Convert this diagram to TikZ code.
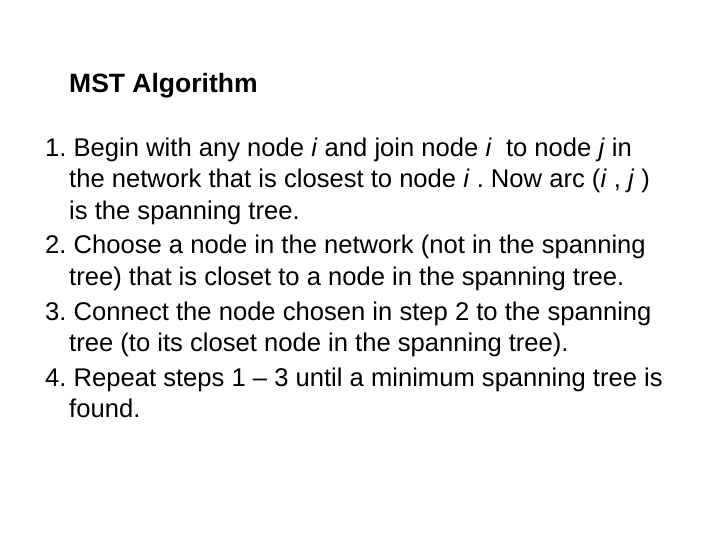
\documentclass[tikz,border=0pt]{standalone}
\usepackage{fontspec}
\setmainfont{Liberation Sans}
\begin{document}
\frenchspacing
\begin{tikzpicture}[x=1pt,y=-1pt,txt/.style={anchor=base west,inner sep=0pt,font=\fontsize{25.6}{30}\selectfont}]
\useasboundingbox (0,0) rectangle (720,540);
\node[txt,font=\fontsize{26.5}{30}\selectfont\bfseries] (t) at (69,93) {MST Algorithm};
\node[txt] (l1) at (45,157) {1. Begin with any node \textit{i} and join node \textit{i}\ \ to node \textit{j} in};
\node[txt] (l2) at (69,188) {the network that is closest to node \textit{i} . Now arc (\textit{i} , \textit{j} )};
\node[txt] (l3) at (69,219) {is the spanning tree.};
\node[txt] (l4) at (45,254) {2. Choose a node in the network (not in the spanning};
\node[txt] (l5) at (69,285) {tree) that is closet to a node in the spanning tree.};
\node[txt] (l6) at (45,320) {3. Connect the node chosen in step 2 to the spanning};
\node[txt] (l7) at (69,351) {tree (to its closet node in the spanning tree).};
\node[txt] (l8) at (45,386) {4. Repeat steps 1 -- 3 until a minimum spanning tree is};
\node[txt] (l9) at (69,417) {found.};
\end{tikzpicture}
\end{document}
